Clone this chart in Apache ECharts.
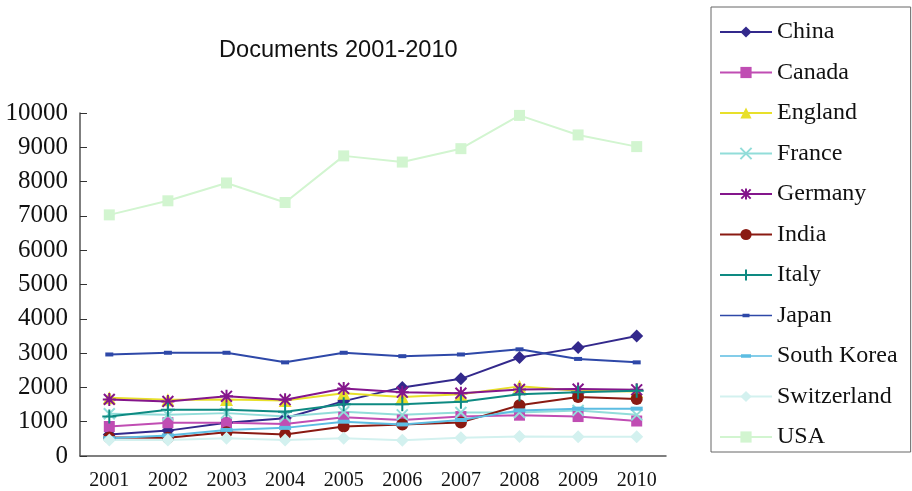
<!DOCTYPE html>
<html>
<head>
<meta charset="utf-8">
<script src="https://cdn.jsdelivr.net/npm/echarts@6/dist/echarts.min.js"></script>
<style>
  html, body { margin: 0; padding: 0; background: #fff; }
  #chart { width: 912px; height: 491px; }
</style>
</head>
<body>
<div id="chart"></div>
<script>
// categories
const years = ['2001', '2002', '2003', '2004', '2005', '2006', '2007', '2008', '2009', '2010']

// documents per country
const china = [630, 740, 970, 1100, 1600, 2000, 2250, 2870, 3160, 3500]
const canada = [860, 970, 970, 930, 1130, 1050, 1150, 1190, 1150, 1020]
const england = [1700, 1640, 1650, 1620, 1830, 1720, 1800, 2030, 1900, 1880]
const france = [1230, 1200, 1250, 1150, 1290, 1200, 1270, 1270, 1330, 1200]
const germany = [1650, 1590, 1740, 1640, 1970, 1860, 1830, 1940, 1950, 1930]
const india = [540, 530, 690, 630, 860, 920, 980, 1480, 1720, 1660]
const italy = [1150, 1350, 1350, 1290, 1510, 1510, 1580, 1800, 1860, 1900]
const japan = [2960, 3010, 3010, 2730, 3010, 2910, 2960, 3110, 2830, 2730]
const southKorea = [520, 600, 760, 820, 1000, 920, 1050, 1330, 1380, 1380]
const switzerland = [470, 470, 520, 470, 520, 460, 530, 570, 560, 560]
const usa = [7030, 7440, 7960, 7390, 8750, 8570, 8960, 9930, 9360, 9020]

// y tick labels
const yMin = 0
const yMax = 10000
const yStep = 1000

// 自定义符号
const crossPath = 'path://M0,0L10,10M10,0L0,10'
const starPath = 'path://M0,0L10,10M10,0L0,10M5,-1L5,11M-1,5L11,5'
const plusPath = 'path://M5,0L5,10M0,5L10,5'

// 图例里的扁平方块 (线 + 小方块)
const dashIcon = w =>
  'path://M0,0L0.01,0L0,0.01Z M52,14L51.99,14L52,13.99Z ' +
  'M0,6.2L52,6.2L52,7.8L0,7.8Z ' +
  `M${26 - w / 2},5.2L${26 + w / 2},5.2L${26 + w / 2},8.8L${26 - w / 2},8.8Z`

const seriesDefs = [
  { name: 'China', data: china, color: '#33298c', symbol: 'diamond', size: 13 },
  { name: 'Canada', data: canada, color: '#c04db3', symbol: 'rect', size: 11 },
  { name: 'England', data: england, color: '#e8e02a', symbol: 'triangle', size: 13 },
  { name: 'France', data: france, color: '#92ddd9', symbol: crossPath, size: 11, stroke: true },
  { name: 'Germany', data: germany, color: '#84168c', symbol: starPath, size: 13, stroke: true },
  { name: 'India', data: india, color: '#8a1a12', symbol: 'circle', size: 12 },
  { name: 'Italy', data: italy, color: '#0e8a82', symbol: plusPath, size: 14, stroke: true },
  { name: 'Japan', data: japan, color: '#2e48a8', symbol: 'rect', size: [8, 4], icon: dashIcon(7) },
  { name: 'South Korea', data: southKorea, color: '#5cbde2', symbol: 'rect', size: [12, 4], icon: dashIcon(10) },
  { name: 'Switzerland', data: switzerland, color: '#d3f1ef', symbol: 'diamond', size: 13 },
  { name: 'USA', data: usa, color: '#d2f5d0', symbol: 'rect', size: 11 }
]

const chart = echarts.init(document.getElementById('chart'))

const option = {
  animation: false,
  title: {
    text: 'Documents 2001-2010',
    left: 214,
    top: 33,
    textStyle: {
      fontFamily: 'Liberation Sans',
      fontWeight: 'normal',
      fontSize: 23.6,
      color: '#111'
    }
  },
  legend: {
    orient: 'vertical',
    left: 711,
    top: 7,
    padding: [13, 13, 3, 8],
    borderColor: '#666',
    borderWidth: 1,
    itemWidth: 52,
    itemHeight: 14,
    itemGap: 16.5,
    textStyle: {
      fontFamily: 'Liberation Serif',
      fontSize: 24,
      lineHeight: 24,
      color: '#111'
    },
    data: seriesDefs.map(s => (s.icon ? { name: s.name, icon: s.icon } : s.name))
  },
  grid: {
    left: 80,
    right: 246,
    top: 113,
    bottom: 35
  },
  xAxis: {
    type: 'category',
    data: years,
    boundaryGap: true,
    axisLine: { lineStyle: { color: '#555', width: 1.5 } },
    axisTick: { inside: true, length: 6, lineStyle: { color: '#333' } },
    axisLabel: {
      fontFamily: 'Liberation Serif',
      fontSize: 20,
      color: '#111',
      margin: 15
    }
  },
  yAxis: {
    type: 'value',
    min: yMin,
    max: yMax,
    interval: yStep,
    axisLine: { show: true, lineStyle: { color: '#555', width: 1.5 } },
    axisTick: { show: true, inside: true, length: 7, lineStyle: { color: '#333' } },
    splitLine: { show: false },
    axisLabel: {
      fontFamily: 'Liberation Serif',
      fontSize: 25,
      color: '#111',
      margin: 12,
      padding: [4, 0, 0, 0],
      formatter: v => String(v)
    }
  },
  series: seriesDefs.map(s => ({
    name: s.name,
    type: 'line',
    data: s.data,
    symbol: s.symbol,
    symbolSize: s.size,
    showAllSymbol: true,
    lineStyle: { color: s.color, width: 2 },
    itemStyle: s.stroke
      ? { color: s.color, borderColor: s.color, borderWidth: 2 }
      : { color: s.color, borderWidth: 0 },
    emphasis: { disabled: true }
  }))
}

chart.setOption(option)
</script>
</body>
</html>
